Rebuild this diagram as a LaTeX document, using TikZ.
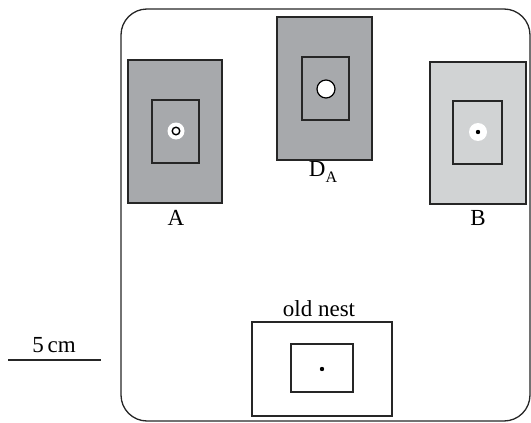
\documentclass[tikz,border=0pt]{standalone}
\usepackage{fontspec}
\setmainfont{Liberation Serif}
\begin{document}
\begin{tikzpicture}[x=1pt,y=-1pt,
  line width=1.3pt,
  lbl/.style={inner sep=0pt,anchor=base,font=\fontsize{23}{25}\selectfont},
  outerbox/.style={draw=black!85,line width=1.3pt},
  innerbox/.style={draw=black!85,line width=1.4pt}]
\definecolor{darkg}{HTML}{A7A9AC}
\definecolor{lightg}{HTML}{D1D3D4}
\useasboundingbox (0,0) rectangle (531,423);
% arena
\draw[black!85,line width=1.3pt,rounded corners=26pt] (121,9) rectangle (530,421);
% A
\draw[outerbox,fill=darkg] (128,60) rectangle (222,203);
\draw[innerbox] (152,100) rectangle (199,163);
\fill[white] (176,131) circle (8.5);
\draw[black,line width=1.4pt] (176,131) circle (3.8);
\node[lbl] (la) at (176,225) {A};
% D_A
\draw[outerbox,fill=darkg] (277,17) rectangle (372,160);
\draw[innerbox] (302,57) rectangle (349,120);
\draw[black,line width=1.2pt,fill=white] (326,89) circle (9);
\node[lbl] (ld) at (323,176) {D\raisebox{-0.28em}{\fontsize{16}{18}\selectfont A}};
% B
\draw[outerbox,fill=lightg] (430,62) rectangle (526,204);
\draw[innerbox] (453,101) rectangle (502,164);
\fill[white] (478,132) circle (9);
\fill[black] (478,132) circle (2.2);
\node[lbl] (lb) at (478,225) {B};
% old nest
\draw[outerbox] (252,322) rectangle (392,416);
\draw[innerbox] (291,344) rectangle (353,392);
\fill[black] (322,369) circle (2.2);
\node[lbl] (ln) at (319,316) {old nest};
% scale bar
\coordinate (s1) at (8,360);
\coordinate (s2) at (101,360);
\draw[black!85,line width=1.4pt] (s1) -- (s2);
\node[lbl] (ls) at (54,352) {5\,cm};
\end{tikzpicture}
\end{document}
